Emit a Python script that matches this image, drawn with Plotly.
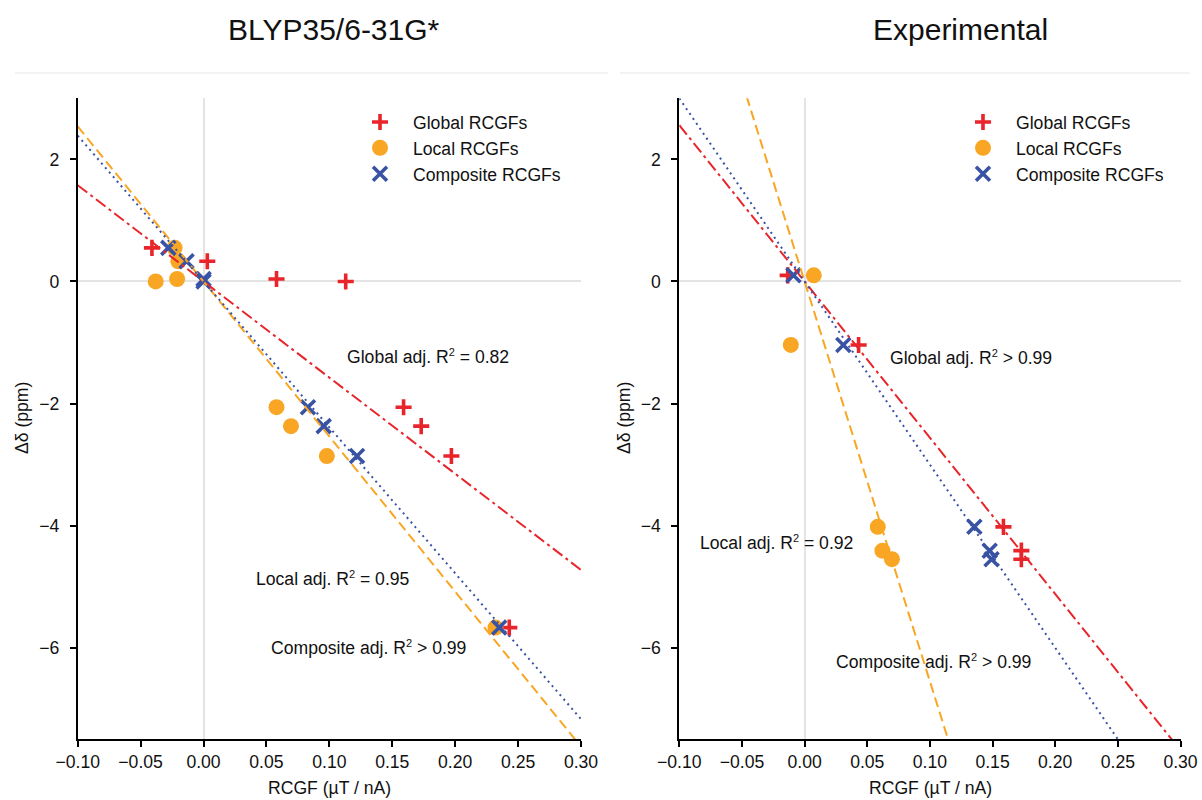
import plotly.graph_objects as go

# ---------------- data ----------------
# Left panel: BLYP35/6-31G*
calc_delta = [0.55, 0.33, 0.04, 0.00, -2.06, -2.37, -2.86, -5.67]
calc_global_x = [-0.041, 0.003, 0.058, 0.113, 0.159, 0.173, 0.197, 0.243]
calc_local_x = [-0.023, -0.020, -0.021, -0.038, 0.058, 0.0695, 0.098, 0.232]
calc_comp_x = [-0.028, -0.0135, 0.000, 0.000, 0.083, 0.0955, 0.122, 0.235]

# Right panel: Experimental
exp_delta = [0.10, -1.04, -4.02, -4.41, -4.55]
exp_global_x = [-0.0135, 0.0431, 0.1587, 0.1730, 0.1730]
exp_local_x = [0.0073, -0.0110, 0.0584, 0.0621, 0.0697]
exp_comp_x = [-0.0089, 0.0309, 0.1355, 0.1477, 0.1492]

# fitted slopes (through origin)
calc_slopes = [-15.75, -25.4, -23.9]   # global, local, composite
exp_slopes = [-25.6, -65.5, -30.0]

series_names = ["Global RCGFs", "Local RCGFs", "Composite RCGFs"]
panel_titles = ["BLYP35/6-31G*", "Experimental"]
x_title = "RCGF (\u00b5T / nA)"
y_title = "\u0394\u03b4 (ppm)"

SUP2 = "<sup><span style='font-size:11px'>2</span></sup>"
calc_r2_text = ["Global adj. R" + SUP2 + " = 0.82", "Local adj. R" + SUP2 + " = 0.95",
                "Composite adj. R" + SUP2 + " > 0.99"]
calc_r2_x = [0.1785, 0.103, 0.1308]
calc_r2_y = [-1.23, -4.87, -6.00]
exp_r2_text = ["Global adj. R" + SUP2 + " > 0.99", "Local adj. R" + SUP2 + " = 0.92",
               "Composite adj. R" + SUP2 + " > 0.99"]
exp_r2_x = [0.1324, -0.0228, 0.1032]
exp_r2_y = [-1.25, -4.28, -6.23]

x_ticks = [-0.10, -0.05, 0.00, 0.05, 0.10, 0.15, 0.20, 0.25, 0.30]
x_ticktext = ["\u22120.10", "\u22120.05", "0.00", "0.05", "0.10", "0.15", "0.20", "0.25", "0.30"]
y_ticks = [-6, -4, -2, 0, 2]
y_ticktext = ["\u22126", "\u22124", "\u22122", "0", "2"]
x_range = [-0.10, 0.30]
y_range = [-7.5, 3.0]

# ---------------- styling ----------------
W, H = 1202, 800
FONT = "Liberation Sans, Arial, sans-serif"
FS = 17.6
RED = "#e8252b"
ORANGE = "#f8a623"
BLUE = "#3953a4"
colors = [RED, ORANGE, BLUE]
line_dash = ["12px,4px,3px,4px", "10px,5px", "2px,4px"]

fig = go.Figure()

panels = [
    (calc_delta, [calc_global_x, calc_local_x, calc_comp_x], calc_slopes, "x", "y", "legend"),
    (exp_delta, [exp_global_x, exp_local_x, exp_comp_x], exp_slopes, "x2", "y2", "legend2"),
]

for delta, xs, slopes, xa, ya, leg in panels:
    fig.add_trace(go.Scatter(
        x=xs[0], y=delta, mode="markers", name=series_names[0], xaxis=xa, yaxis=ya,
        legend=leg, cliponaxis=False,
        marker=dict(symbol="cross-thin", size=11.5, color=RED, line=dict(color=RED, width=3.6))))
    fig.add_trace(go.Scatter(
        x=xs[1], y=delta, mode="markers", name=series_names[1], xaxis=xa, yaxis=ya,
        legend=leg, cliponaxis=False,
        marker=dict(symbol="circle", size=16, color=ORANGE, line=dict(width=0))))
    fig.add_trace(go.Scatter(
        x=xs[2], y=delta, mode="markers", name=series_names[2], xaxis=xa, yaxis=ya,
        legend=leg, cliponaxis=False,
        marker=dict(symbol="x-thin", size=14, color=BLUE, line=dict(color=BLUE, width=3.6))))
    for k in range(3):
        fig.add_trace(go.Scatter(
            x=x_range, y=[slopes[k] * x_range[0], slopes[k] * x_range[1]],
            mode="lines", showlegend=False, xaxis=xa, yaxis=ya, hoverinfo="skip",
            line=dict(color=colors[k], width=2, dash=line_dash[k])))

axis_common = dict(
    showgrid=False, zeroline=True, zerolinecolor="#e4e4e4", zerolinewidth=1.5,
    showline=True, linecolor="black", linewidth=1.8, mirror=False,
    ticks="outside", ticklen=6, tickwidth=1.6, tickcolor="black",
    tickfont=dict(family=FONT, size=FS, color="#111"), automargin=False,
)

XD1 = [77.7 / W, 581.0 / W]
XD2 = [679.3 / W, 1180.5 / W]
YD = [(H - 739.3) / H, (H - 98.3) / H]

fig.update_layout(
    width=W, height=H,
    margin=dict(l=0, r=0, t=0, b=0, autoexpand=False),
    paper_bgcolor="white", plot_bgcolor="white",
    font=dict(family=FONT, size=FS, color="#111"),
    xaxis=dict(domain=XD1, range=x_range, tickvals=x_ticks, ticktext=x_ticktext, anchor="y",
               **axis_common),
    yaxis=dict(domain=YD, range=y_range, tickvals=y_ticks, ticktext=y_ticktext, anchor="x",
               ticklabelstandoff=7, **axis_common),
    xaxis2=dict(domain=XD2, range=x_range, tickvals=x_ticks, ticktext=x_ticktext, anchor="y2",
                **axis_common),
    yaxis2=dict(domain=YD, range=y_range, tickvals=y_ticks, ticktext=y_ticktext, anchor="x2",
                ticklabelstandoff=7, **axis_common),
    legend=dict(x=347 / W, y=1 - 104 / H, xanchor="left", yanchor="top",
                bgcolor="rgba(0,0,0,0)", font=dict(family=FONT, size=FS), itemwidth=56),
    legend2=dict(x=950 / W, y=1 - 104 / H, xanchor="left", yanchor="top",
                 bgcolor="rgba(0,0,0,0)", font=dict(family=FONT, size=FS), itemwidth=56),
    showlegend=True,
)

annotations = []
for i, t in enumerate(panel_titles):
    annotations.append(dict(text=t, xref="paper", yref="paper", x=[334 / W, 960 / W][i],
                            y=1 - 29 / H, xanchor="center", yanchor="middle", showarrow=False,
                            font=dict(family=FONT, size=30, color="#111")))
# axis titles
for xc, yl in [(329.3 / W, 22 / W), (930 / W, 624 / W)]:
    annotations.append(dict(text=x_title, xref="paper", yref="paper", x=xc, y=1 - 788 / H,
                            xanchor="center", yanchor="middle", showarrow=False,
                            font=dict(family=FONT, size=FS, color="#111")))
    annotations.append(dict(text=y_title, xref="paper", yref="paper", x=yl, y=1 - 418 / H,
                            xanchor="center", yanchor="middle", showarrow=False, textangle=-90,
                            font=dict(family=FONT, size=FS, color="#111")))
for txts, xs_, ys_, xr, yr in [(calc_r2_text, calc_r2_x, calc_r2_y, "x", "y"),
                               (exp_r2_text, exp_r2_x, exp_r2_y, "x2", "y2")]:
    for t, ax, ay in zip(txts, xs_, ys_):
        annotations.append(dict(text=t, x=ax, y=ay, xref=xr, yref=yr, showarrow=False,
                                xanchor="center", yanchor="middle",
                                font=dict(family=FONT, size=FS, color="#111")))
fig.update_layout(annotations=annotations)

# faint separator lines under the titles
fig.add_shape(type="line", xref="paper", yref="paper", x0=15 / W, x1=608 / W,
              y0=1 - 73 / H, y1=1 - 73 / H, line=dict(color="#f3f3f3", width=2))
fig.add_shape(type="line", xref="paper", yref="paper", x0=620 / W, x1=1190 / W,
              y0=1 - 73 / H, y1=1 - 73 / H, line=dict(color="#f3f3f3", width=2))

fig.write_html("out.html")
